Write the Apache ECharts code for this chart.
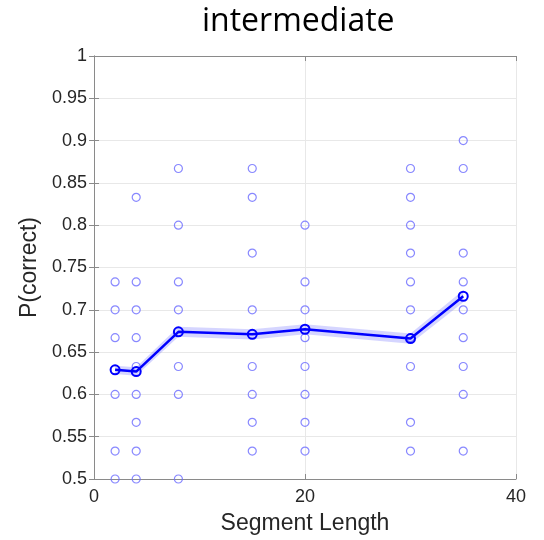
<!DOCTYPE html>
<html lang="en">
<head>
<meta charset="UTF-8">
<title>intermediate</title>
<style>
    html, body {
        margin: 0;
        padding: 0;
        background: #fff;
    }
    #chart {
        width: 544px;
        height: 540px;
    }
</style>
</head>
<body>
<div id="chart"></div>
<script src="https://cdn.jsdelivr.net/npm/echarts@6/dist/echarts.min.js"></script>
<script>
    // segment lengths (x positions of the columns)
    var segLengths = [2, 4, 8, 15, 20, 30, 35];

    // single-subject scores, one list per segment length
    var scoresL2 = [0.5, 0.533, 0.6, 0.667, 0.7, 0.733];
    var scoresL4 = [0.5, 0.533, 0.567, 0.6, 0.633, 0.667, 0.7, 0.733, 0.833];
    var scoresL8 = [0.5, 0.6, 0.633, 0.7, 0.733, 0.8, 0.867];
    var scoresL15 = [0.533, 0.567, 0.6, 0.633, 0.7, 0.767, 0.833, 0.867];
    var scoresL20 = [0.533, 0.567, 0.6, 0.633, 0.667, 0.7, 0.733, 0.8];
    var scoresL30 = [0.533, 0.567, 0.633, 0.667, 0.7, 0.733, 0.767, 0.8, 0.833, 0.867];
    var scoresL35 = [0.533, 0.6, 0.633, 0.667, 0.7, 0.733, 0.767, 0.867, 0.9];

    // group mean and its error (shaded band)
    var meanVals = [0.629, 0.627, 0.674, 0.671, 0.677, 0.666, 0.716];
    var errVals = [0.005, 0.005, 0.006, 0.006, 0.006, 0.006, 0.007];

    var allScores = [scoresL2, scoresL4, scoresL8, scoresL15, scoresL20, scoresL30, scoresL35];

    var dots = [];
    allScores.forEach(function (list, i) {
        list.forEach(function (v) {
            dots.push([segLengths[i], v]);
        });
    });
    var meanLine = segLengths.map(function (x, i) { return [x, meanVals[i]]; });

    var axisGrey = '#8a8a8a';
    var textDark = '#262626';

    // shaded error band: upper edge forwards, lower edge backwards
    function renderBand(params, api) {
        var pts = [];
        for (var i = 0; i < segLengths.length; i++) {
            pts.push(api.coord([segLengths[i], meanVals[i] + errVals[i]]));
        }
        for (var j = segLengths.length - 1; j >= 0; j--) {
            pts.push(api.coord([segLengths[j], meanVals[j] - errVals[j]]));
        }
        return {
            type: 'polygon',
            shape: { points: pts },
            style: { fill: 'rgba(100,100,255,0.27)' }
        };
    }

    var chart = echarts.init(document.getElementById('chart'));
    var option = {
        animation: false,
        backgroundColor: '#fff',
        title: {
            text: 'intermediate',
            left: 197,
            top: 1,
            textStyle: {
                fontFamily: 'Open Sans',
                fontSize: 32,
                fontWeight: 'normal',
                color: '#000'
            }
        },
        grid: {
            left: 94,
            right: 28,
            top: 56,
            bottom: 61
        },
        xAxis: [
            {
                type: 'value',
                min: 0,
                max: 40,
                interval: 20,
                name: 'Segment Length',
                nameLocation: 'middle',
                nameGap: 33,
                nameTextStyle: {
                    fontFamily: 'Liberation Sans',
                    fontSize: 23,
                    color: textDark
                },
                axisLine: { lineStyle: { color: axisGrey, width: 1 } },
                axisTick: { inside: true, length: 5, lineStyle: { color: axisGrey } },
                axisLabel: {
                    fontFamily: 'Liberation Sans',
                    fontSize: 18,
                    color: textDark,
                    margin: 9
                },
                splitLine: { show: true, lineStyle: { color: '#e8e8e8' } }
            },
            {
                type: 'value',
                position: 'top',
                min: 0,
                max: 40,
                interval: 20,
                axisLine: { lineStyle: { color: axisGrey, width: 1 } },
                axisTick: { inside: true, length: 5, lineStyle: { color: axisGrey } },
                axisLabel: { show: false },
                splitLine: { show: false }
            }
        ],
        yAxis: [
            {
                type: 'value',
                min: 0.5,
                max: 1,
                interval: 0.05,
                name: 'P(correct)',
                nameLocation: 'middle',
                nameGap: 50,
                nameTextStyle: {
                    fontFamily: 'Liberation Sans',
                    fontSize: 23,
                    color: textDark
                },
                axisLine: { show: true, lineStyle: { color: axisGrey, width: 1 } },
                axisTick: { show: true, inside: true, length: 5, lineStyle: { color: axisGrey } },
                axisLabel: {
                    fontFamily: 'Liberation Sans',
                    fontSize: 18,
                    color: textDark,
                    margin: 7
                },
                splitLine: { show: true, lineStyle: { color: '#e8e8e8' } }
            },
            {
                type: 'value',
                position: 'right',
                min: 0.5,
                max: 1,
                interval: 0.05,
                axisLine: { show: true, lineStyle: { color: axisGrey, width: 1 } },
                axisTick: { show: true, inside: true, length: 5, lineStyle: { color: axisGrey } },
                axisLabel: { show: false },
                splitLine: { show: false }
            }
        ],
        series: [
            {
                name: 'subjects',
                type: 'scatter',
                data: dots,
                symbol: 'circle',
                symbolSize: 8,
                z: 2,
                itemStyle: {
                    color: 'rgba(0,0,0,0)',
                    borderColor: '#6a6aff',
                    borderWidth: 1.2
                }
            },
            {
                name: 'band',
                type: 'custom',
                data: [[segLengths[0], meanVals[0]]],
                renderItem: renderBand,
                silent: true,
                z: 3
            },
            {
                name: 'mean',
                type: 'line',
                data: meanLine,
                symbol: 'circle',
                symbolSize: 9,
                z: 4,
                lineStyle: { color: '#0000ff', width: 2.5 },
                itemStyle: {
                    color: 'rgba(0,0,0,0)',
                    borderColor: '#0000ff',
                    borderWidth: 2
                }
            }
        ]
    };
    chart.setOption(option);
</script>
</body>
</html>
